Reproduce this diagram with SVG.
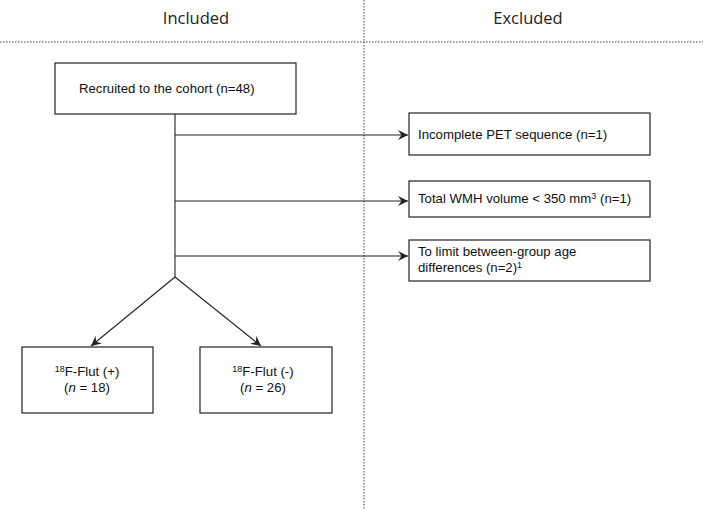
<svg xmlns="http://www.w3.org/2000/svg" width="703" height="510" viewBox="0 0 703 510">
<style>
.hdr{font-family:"Open Sans","DejaVu Sans",sans-serif;font-size:16.5px;fill:#222;text-anchor:middle}
.box{fill:#fff;stroke:#222;stroke-width:1.2}
.t{font-family:"Liberation Sans",Arial,sans-serif;font-size:13.2px;fill:#111}
.c{text-anchor:middle}
.sup{font-size:9px}
.ln{fill:none;stroke:#222;stroke-width:1.1}
.dot{fill:none;stroke:#444;stroke-width:1;stroke-dasharray:1.5 1.5}
</style>
<defs>
<marker id="ah" viewBox="0 0 10 10" refX="10" refY="5" markerWidth="10" markerHeight="10" markerUnits="userSpaceOnUse" orient="auto">
<path d="M0,0 L10,5 L0,10 L3.5,5 z" fill="#222"/>
</marker>
</defs>
<g id="dividers">
<line class="dot" x1="0" y1="42" x2="703" y2="42"/>
<line class="dot" x1="364" y1="0" x2="364" y2="510"/>
</g>
<g id="headers">
<text class="hdr" x="196" y="24">Included</text>
<text class="hdr" x="528" y="24">Excluded</text>
</g>
<g id="connectors">
<path class="ln" d="M175,114 V277"/>
<path class="ln" d="M175,135 H408" marker-end="url(#ah)"/>
<path class="ln" d="M175,201 H408" marker-end="url(#ah)"/>
<path class="ln" d="M175,256 H408" marker-end="url(#ah)"/>
<path class="ln" d="M175,277 L91,346" marker-end="url(#ah)"/>
<path class="ln" d="M175,277 L261,346" marker-end="url(#ah)"/>
</g>
<g id="recruited">
<rect class="box" x="55" y="63" width="241" height="51"/>
<text class="t" x="79" y="93">Recruited to the cohort (n=48)</text>
</g>
<g id="excl-pet">
<rect class="box" x="409" y="113" width="241" height="42"/>
<text class="t" x="418" y="139">Incomplete PET sequence (n=1)</text>
</g>
<g id="excl-wmh">
<rect class="box" x="409" y="181" width="241" height="36"/>
<text class="t" x="418" y="203">Total WMH volume &lt; 350 mm<tspan class="sup" dy="-4">3</tspan><tspan dy="4"> (n=1)</tspan></text>
</g>
<g id="excl-age">
<rect class="box" x="409" y="240" width="241" height="41"/>
<text class="t" x="418" y="256">To limit between-group age</text>
<text class="t" x="418" y="272">differences (n=2)<tspan class="sup" dy="-4">1</tspan></text>
</g>
<g id="flut-pos">
<rect class="box" x="22" y="347" width="131" height="66"/>
<text class="t c" x="87" y="376"><tspan class="sup" dy="-4">18</tspan><tspan dy="4">F-Flut (+)</tspan></text>
<text class="t c" x="87" y="392">(<tspan font-style="italic">n</tspan> = 18)</text>
</g>
<g id="flut-neg">
<rect class="box" x="200" y="347" width="132" height="66"/>
<text class="t c" x="263" y="376"><tspan class="sup" dy="-4">18</tspan><tspan dy="4">F-Flut (-)</tspan></text>
<text class="t c" x="263" y="392">(<tspan font-style="italic">n</tspan> = 26)</text>
</g>
</svg>
